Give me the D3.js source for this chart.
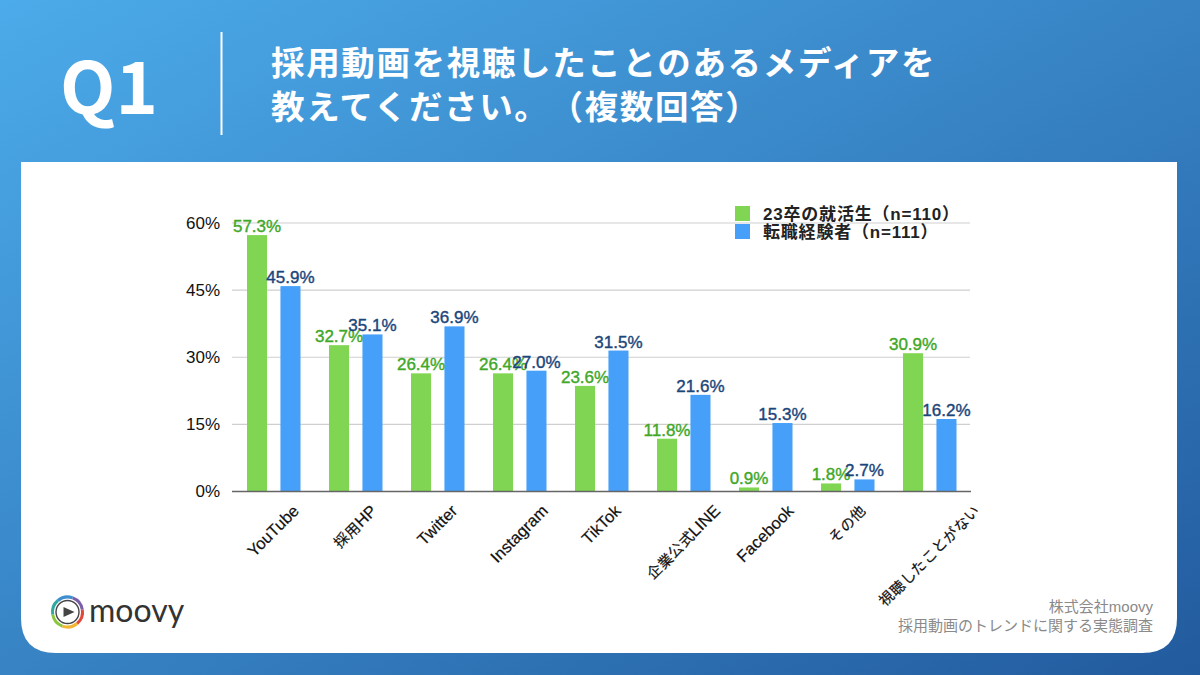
<!DOCTYPE html>
<html>
<head>
<meta charset="utf-8">
<script src="https://cdn.jsdelivr.net/npm/d3@7"></script>
<style>
  @font-face { font-family: "LabelCJK"; src: local("Noto Sans CJK JP"); size-adjust: 88%; }
  html, body { margin: 0; padding: 0; background: #fff; }
  svg { display: block; }
  text { font-family: "Liberation Sans", "Noto Sans CJK JP", sans-serif; text-spacing-trim: space-all; }
  .jp { font-family: "Noto Sans CJK JP", sans-serif; }
  .grid line { stroke: #cfcfcf; stroke-width: 1.2; }
</style>
</head>
<body>
<svg id="chart" width="1200" height="675"></svg>
<script>
var categories = ['YouTube', '採用HP', 'Twitter', 'Instagram', 'TikTok', '企業公式LINE', 'Facebook', 'その他', '視聴したことがない'];
var seriesNames = ['23卒の就活生（n=110）', '転職経験者（n=111）'];
var jobSeekers = [57.3, 32.7, 26.4, 26.4, 23.6, 11.8, 0.9, 1.8, 30.9];
var jobChangers = [45.9, 35.1, 36.9, 27.0, 31.5, 21.6, 15.3, 2.7, 16.2];
var yTicks = [0, 15, 30, 45, 60];
var titleLines = ['採用動画を視聴したことのあるメディアを', '教えてください。（複数回答）'];
var sourceLines = ['株式会社moovy', '採用動画のトレンドに関する実態調査'];
var logoColors = ['#e0483a', '#f2b632', '#8cc63f', '#2fa8a0', '#3f8fd0', '#7a5ea8', '#e0483a'];

var svg = d3.select('#chart');

// background + card
var grad = svg.append('defs').append('linearGradient')
  .attr('id', 'bg').attr('x1', '0').attr('y1', '0').attr('x2', '1').attr('y2', '1');
grad.append('stop').attr('offset', '0').attr('stop-color', '#4cabea');
grad.append('stop').attr('offset', '1').attr('stop-color', '#225b9e');

svg.append('rect').attr('width', 1200).attr('height', 675).attr('fill', 'url(#bg)');

var cardPath = d3.path();
cardPath.moveTo(21, 162);
cardPath.lineTo(1177, 162);
cardPath.lineTo(1177, 618);
cardPath.quadraticCurveTo(1177, 653, 1142, 653);
cardPath.lineTo(56, 653);
cardPath.quadraticCurveTo(21, 653, 21, 618);
cardPath.closePath();
svg.append('path').attr('d', cardPath.toString()).attr('fill', '#fff');

// header
svg.append('text').attr('class', 'jp')
  .attr('x', 60).attr('y', 114)
  .attr('font-size', 72).attr('font-weight', 700).attr('fill', '#fff')
  .text('Q1');

svg.append('line')
  .attr('x1', 221.5).attr('x2', 221.5).attr('y1', 32).attr('y2', 135)
  .attr('stroke', '#fff').attr('stroke-width', 2);

svg.selectAll('.title').data(titleLines).enter().append('text')
  .attr('class', 'title jp')
  .attr('x', 271)
  .attr('y', function (d, i) { return 75 + i * 43.5; })
  .attr('font-size', 33.5).attr('font-weight', 700).attr('fill', '#fff')
  .attr('letter-spacing', 1.65)
  .text(function (d) { return d; });

// chart
var x = d3.scaleBand().domain(categories).range([232, 970]);
var y = d3.scaleLinear().domain([0, 60]).range([491.5, 223]);
var barOffset = d3.scaleBand().domain([0, 1]).range([15, 68.5]).paddingInner(0.4);

var grid = svg.append('g').attr('class', 'grid');
grid.selectAll('line').data(yTicks.slice(1)).enter().append('line')
  .attr('x1', 232).attr('x2', 970)
  .attr('y1', function (d) { return y(d); })
  .attr('y2', function (d) { return y(d); });

var yAxis = svg.append('g')
  .attr('transform', 'translate(232,0)')
  .call(d3.axisLeft(y).tickValues(yTicks).tickSize(0).tickPadding(12).tickFormat(function (d) { return d + '%'; }));
yAxis.select('.domain').remove();
yAxis.selectAll('text')
  .attr('font-size', 17).attr('fill', '#111')
  .style('font-family', '"Liberation Sans", sans-serif');

var series = [
  { values: jobSeekers, fill: '#80d552', label: '#3fa828' },
  { values: jobChangers, fill: '#46a0fa', label: '#1b467c' }
];

series.forEach(function (s, k) {
  svg.append('g').selectAll('rect').data(s.values).enter().append('rect')
    .attr('x', function (d, i) { return x(categories[i]) + barOffset(k); })
    .attr('width', barOffset.bandwidth())
    .attr('y', function (d) { return y(d); })
    .attr('height', function (d) { return y(0) - y(d); })
    .attr('fill', s.fill);
});

svg.append('line')
  .attr('x1', 232).attr('x2', 971).attr('y1', y(0)).attr('y2', y(0))
  .attr('stroke', '#666').attr('stroke-width', 1.5);

series.forEach(function (s, k) {
  svg.append('g').selectAll('text').data(s.values).enter().append('text')
    .attr('x', function (d, i) { return x(categories[i]) + barOffset(k) + barOffset.bandwidth() / 2; })
    .attr('y', function (d) { return y(d) - 3; })
    .attr('text-anchor', 'middle')
    .attr('font-size', 17)
    .attr('fill', s.label).attr('stroke', s.label).attr('stroke-width', 0.4)
    .text(function (d) { return d.toFixed(1) + '%'; });
});

// category labels: centred on the band, rotated about their own middle
var xAxis = svg.append('g')
  .attr('transform', 'translate(0,491.5)')
  .call(d3.axisBottom(x).tickSize(0).tickFormat(function (d) { return d; }));
xAxis.select('.domain').remove();
xAxis.selectAll('.tick').attr('transform', null);
xAxis.selectAll('text')
  .attr('font-size', 16.5).attr('fill', '#111').attr('stroke', '#111').attr('stroke-width', 0.2)
  .attr('text-anchor', 'middle').attr('dy', '0.35em').attr('y', 0)
  .style('font-family', '"Liberation Sans", "LabelCJK", "Noto Sans CJK JP", sans-serif')
  .attr('transform', function (d) {
    var len = this.getComputedTextLength();
    var half = (len + 15) * Math.SQRT1_2 / 2;
    return 'translate(' + (x(d) + x.bandwidth() / 2) + ',' + (11 + half) + ') rotate(-45)';
  });

// legend
var legend = svg.append('g');
legend.selectAll('rect').data(series).enter().append('rect')
  .attr('x', 735).attr('width', 15).attr('height', 15)
  .attr('y', function (d, i) { return 206 + i * 18; })
  .attr('fill', function (d) { return d.fill; });
legend.selectAll('text').data(seriesNames).enter().append('text')
  .attr('x', 763)
  .attr('y', function (d, i) { return 220 + i * 18; })
  .attr('font-size', 17).attr('font-weight', 700).attr('fill', '#222')
  .attr('letter-spacing', 0.8)
  .text(function (d) { return d; });

// source
svg.selectAll('.source').data(sourceLines).enter().append('text')
  .attr('class', 'source')
  .attr('x', 1153).attr('text-anchor', 'end')
  .attr('y', function (d, i) { return 612 + i * 18.5; })
  .attr('font-size', 15).attr('fill', '#8a8a8a')
  .text(function (d) { return d; });

// logo
var logo = svg.append('g').attr('transform', 'translate(67.5,612)');
var ringArc = d3.arc().innerRadius(13.5).outerRadius(16.5);
var ringStep = 2 * Math.PI / (logoColors.length - 1);
logo.selectAll('path.ring').data(logoColors.slice(0, -1)).enter().append('path')
  .attr('class', 'ring')
  .attr('d', function (d, i) { return ringArc({ startAngle: i * ringStep + 1.4, endAngle: (i + 1) * ringStep + 1.4 }); })
  .attr('fill', function (d) { return d; });
logo.append('circle').attr('r', 11.5).attr('fill', 'none').attr('stroke', '#444').attr('stroke-width', 1.4);
logo.append('path').attr('d', 'M-4,-5L7,0L-4,5Z').attr('fill', '#444');
svg.append('text')
  .attr('x', 89).attr('y', 622)
  .attr('font-size', 32).attr('fill', '#333')
  .style('font-family', 'Lato, sans-serif')
  .text('moovy');
</script>
</body>
</html>
